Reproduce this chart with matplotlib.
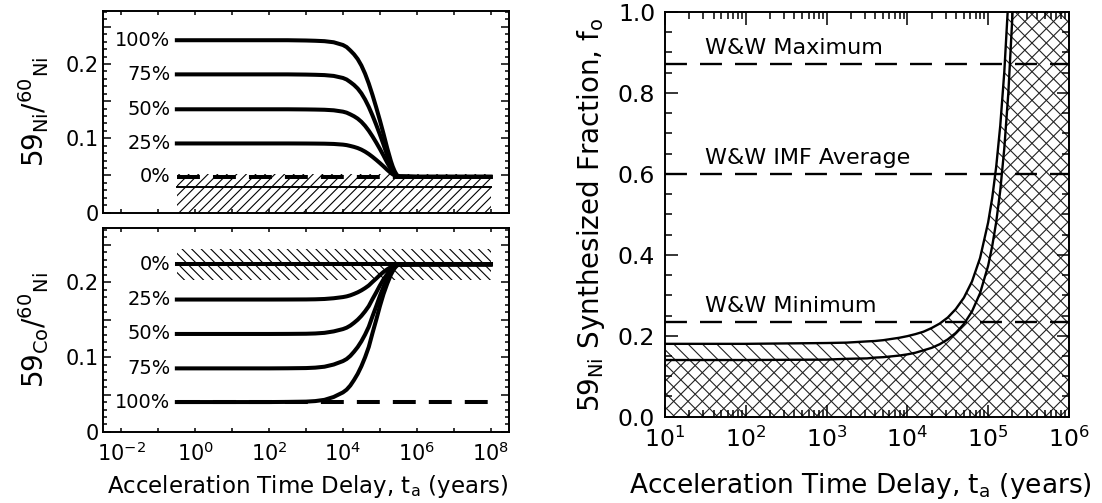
import numpy as np
import matplotlib.pyplot as plt
from matplotlib.ticker import MultipleLocator, FuncFormatter, LogLocator, NullLocator

DPI = 86.5
S = 100.0 / DPI   # sizes below are written for 100 dpi and rescaled

plt.rcParams['font.family'] = 'DejaVu Sans'
plt.rcParams['mathtext.fontset'] = 'dejavusans'
plt.rcParams['hatch.linewidth'] = 0.8 * S
plt.rcParams['lines.scale_dashes'] = False

# delay grid (log10 years) shared by the two ratio panels
log_delay = [-0.5, 1.0, 2.0, 2.5, 3.0, 3.25, 3.5, 3.75, 4.0, 4.1, 4.2, 4.3, 4.4,
             4.5, 4.6, 4.7, 4.8, 4.9, 5.0, 5.1, 5.2, 5.3, 5.35, 5.4, 5.45, 5.5, 6.0, 8.0]
# share of each curve's offset still left at that delay (59Ni panel)
ni_left = [1.0, 1.0, 1.0, 1.0, 0.998, 0.996, 0.993, 0.985, 0.965, 0.95, 0.925, 0.897,
           0.862, 0.815, 0.755, 0.683, 0.60, 0.51, 0.415, 0.315, 0.21, 0.115, 0.075,
           0.043, 0.018, 0.004, 0.0, 0.0]
# same for the 59Co panel
co_left = [1.0, 1.0, 1.0, 0.999, 0.997, 0.993, 0.984, 0.963, 0.93, 0.91, 0.88, 0.84,
           0.795, 0.74, 0.675, 0.60, 0.50, 0.405, 0.305, 0.215, 0.14, 0.075, 0.05,
           0.028, 0.012, 0.003, 0.0, 0.0]

# 59Ni/60Ni panel
ni_labels = ['100%', '75%', '50%', '25%']
ni_start = [0.232, 0.186, 0.139, 0.093]
ni_zero = 0.048
ni_measured = 0.034
ni_band = [0.0, 0.052]

# 59Co/60Ni panel
co_labels = ['25%', '50%', '75%', '100%']
co_start = [0.177, 0.131, 0.085, 0.040]
co_zero = 0.224
co_band = [0.203, 0.244]

# synthesized fraction panel
log_ta = [1.0, 2.0, 3.0, 3.25, 3.5, 3.6, 3.7, 3.8, 3.9, 4.0, 4.1, 4.2, 4.3, 4.4, 4.5,
          4.6, 4.7, 4.8, 4.9, 5.0, 5.05, 5.1, 5.15, 5.2, 5.25, 5.3, 5.32]
f_upper = [0.180, 0.180, 0.182, 0.183, 0.186, 0.187, 0.189, 0.192, 0.195, 0.199, 0.204,
           0.210, 0.219, 0.230, 0.245, 0.266, 0.294, 0.334, 0.392, 0.480, 0.540, 0.618,
           0.719, 0.852, 1.030, 1.270, 1.400]
f_lower = [0.140, 0.140, 0.141, 0.143, 0.144, 0.146, 0.147, 0.149, 0.151, 0.154, 0.158,
           0.164, 0.170, 0.179, 0.191, 0.207, 0.229, 0.260, 0.305, 0.373, 0.421, 0.481,
           0.559, 0.663, 0.800, 0.989, 1.085]
ww_levels = [0.871, 0.600, 0.235]
ww_names = ['W&W Maximum', 'W&W IMF Average', 'W&W Minimum']

t = 10.0 ** np.array(log_delay)

DASH = (0, (16.5 * S, 9.4 * S))
THICK = 2.9 * S

fig = plt.figure(figsize=(1102 / DPI, 503 / DPI), dpi=DPI)
ax1 = fig.add_axes([0.0935, 0.5775, 0.3684, 0.4016])
ax2 = fig.add_axes([0.0935, 0.1412, 0.3684, 0.4046])
ax3 = fig.add_axes([0.6034, 0.1716, 0.3666, 0.8046])


def decade_label(v, pos):
    e = int(round(np.log10(v)))
    return f'$10^{{{e}}}$' if e % 2 == 0 else ''


def tenth_label(v, pos):
    if abs(v * 10 - round(v * 10)) > 1e-6:
        return ''
    return '0' if abs(v) < 1e-9 else f'{v:.1f}'


def ratio_frame(ax):
    ax.set_xscale('log')
    ax.set_xlim(10 ** -2.5, 10 ** 8.5)
    ax.set_ylim(0, 0.272)
    ax.xaxis.set_major_locator(LogLocator(base=10, numticks=30))
    ax.xaxis.set_minor_locator(NullLocator())
    ax.xaxis.set_major_formatter(FuncFormatter(decade_label))
    ax.yaxis.set_major_locator(MultipleLocator(0.05))
    ax.yaxis.set_minor_locator(MultipleLocator(0.01))
    ax.yaxis.set_major_formatter(FuncFormatter(tenth_label))
    ax.tick_params(which='both', direction='in', top=True, right=True,
                   width=1.1 * S, labelsize=15 * S)
    ax.tick_params(axis='x', which='major', length=3 * S, pad=7 * S)
    ax.tick_params(axis='y', which='major', length=6 * S, pad=3 * S)
    ax.tick_params(axis='y', which='minor', length=3 * S)
    for s in ax.spines.values():
        s.set_linewidth(1.4 * S)


def pct_text(ax, y, txt):
    ax.annotate(txt, (t[0], y), xytext=(-4.5 * S, 0), textcoords='offset points',
                ha='right', va='center', fontsize=14 * S)


# --- 59Ni/60Ni vs delay ---
ratio_frame(ax1)
ax1.tick_params(labelbottom=False)
ax1.fill_between(t, ni_band[0], ni_band[1], facecolor='none', edgecolor='black',
                 hatch='///', linewidth=0)
ax1.plot(t, np.full_like(t, ni_measured), color='black', lw=1.4 * S)
ax1.plot(t, np.full_like(t, ni_zero), color='black', lw=THICK, linestyle=DASH)
for lab, y0 in zip(ni_labels, ni_start):
    ax1.plot(t, ni_zero + (y0 - ni_zero) * np.array(ni_left), color='black', lw=THICK)
    pct_text(ax1, y0, lab)
pct_text(ax1, ni_zero, '0%')
ax1.set_ylabel(r'59$_{\rm Ni}$/$^{\rm 60}$$_{\rm Ni}$', fontsize=20 * S)
ax1.yaxis.set_label_coords(-0.128, 0.5)

# --- 59Co/60Ni vs delay ---
ratio_frame(ax2)
ax2.fill_between(t, co_band[0], co_band[1], facecolor='none', edgecolor='black',
                 hatch='\\\\\\', linewidth=0)
ax2.plot(t, np.full_like(t, co_start[-1]), color='black', lw=THICK, linestyle=DASH)
ax2.plot(t, np.full_like(t, co_zero), color='black', lw=THICK)
pct_text(ax2, co_zero, '0%')
for lab, y0 in zip(co_labels, co_start):
    ax2.plot(t, co_zero + (y0 - co_zero) * np.array(co_left), color='black', lw=THICK)
    pct_text(ax2, y0, lab)
ax2.set_ylabel(r'59$_{\rm Co}$/$^{\rm 60}$$_{\rm Ni}$', fontsize=20 * S)
ax2.yaxis.set_label_coords(-0.128, 0.5)
ax2.set_xlabel(r'Acceleration Time Delay, t$_{\rm a}$ (years)', fontsize=16.5 * S)
ax2.xaxis.set_label_coords(0.504, -0.2)

# --- synthesized fraction vs delay ---
ta = 10.0 ** np.array(log_ta)
ax3.set_xscale('log')
ax3.set_xlim(10, 1e6)
ax3.set_ylim(0, 1.0)
x_lim, y_top = ax3.get_xlim()[1], ax3.get_ylim()[1]
ta_fill = np.append(ta, x_lim)
up_fill = np.append(np.minimum(f_upper, y_top), y_top)
lo_fill = np.append(np.minimum(f_lower, y_top), y_top)
ax3.fill_between(ta_fill, 0, up_fill, facecolor='none', edgecolor='#222222',
                 hatch='\\\\', linewidth=0)
ax3.fill_between(ta_fill, 0, lo_fill, facecolor='none', edgecolor='#222222',
                 hatch='//', linewidth=0)
ax3.plot(ta, f_upper, color='black', lw=1.7 * S)
ax3.plot(ta, f_lower, color='black', lw=1.7 * S)
for lev, name in zip(ww_levels, ww_names):
    ax3.axhline(lev, color='black', lw=1.7 * S, linestyle=(0, (15.8 * S, 9.4 * S)))
    ax3.annotate(name, (10 ** 1.5, lev), xytext=(0, 7 * S), textcoords='offset points',
                 ha='left', va='baseline', fontsize=16 * S)

ax3.xaxis.set_major_locator(LogLocator(base=10, numticks=10))
ax3.xaxis.set_minor_locator(LogLocator(base=10, subs=np.arange(2, 10), numticks=10))
ax3.yaxis.set_major_locator(MultipleLocator(0.2))
ax3.yaxis.set_minor_locator(MultipleLocator(0.05))
ax3.yaxis.set_major_formatter(FuncFormatter(lambda v, p: f'{v:.1f}'))
ax3.tick_params(which='both', direction='in', top=True, right=True,
                width=1.1 * S, labelsize=17 * S)
ax3.tick_params(which='major', length=9 * S)
ax3.tick_params(which='minor', length=5 * S)
ax3.tick_params(axis='x', pad=7 * S)
ax3.tick_params(axis='y', pad=7 * S)
for s in ax3.spines.values():
    s.set_linewidth(1.4 * S)
ax3.set_ylabel(r'59$_{\rm Ni}$ Synthesized Fraction, f$_{\rm o}$', fontsize=20 * S)
ax3.yaxis.set_label_coords(-0.144, 0.5)
ax3.set_xlabel(r'Acceleration Time Delay, t$_{\rm a}$ (years)', fontsize=19 * S)
ax3.xaxis.set_label_coords(0.485, -0.135)

fig.savefig('out.png', dpi=DPI)
